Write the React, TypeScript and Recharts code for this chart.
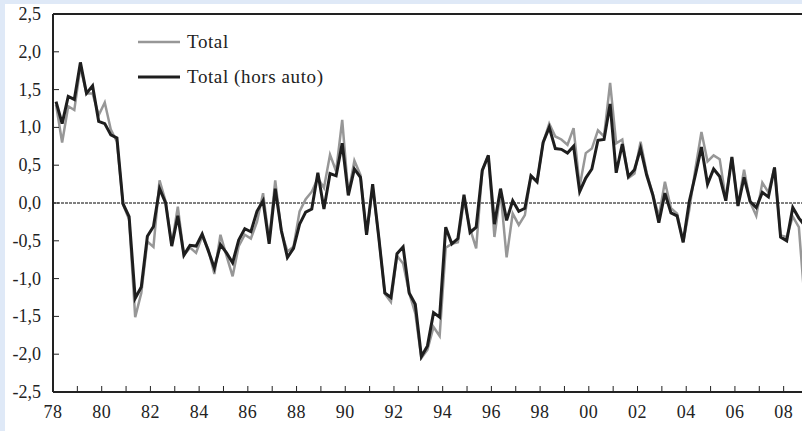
import { LineChart, Line, XAxis, YAxis, ReferenceLine, Legend } from 'recharts';

// quarterly series, 1978 Q1 -> 2008 Q4
const startYear = 1978;

const total = [
  1.30, 0.80, 1.28, 1.23, 1.80, 1.45, 1.45, 1.16, 1.33, 0.97,
  0.81, -0.02, -0.22, -1.51, -1.19, -0.51, -0.58, 0.30, 0.02, -0.55,
  -0.05, -0.69, -0.59, -0.66, -0.44, -0.61, -0.94, -0.42, -0.70, -0.97,
  -0.57, -0.42, -0.47, -0.25, 0.13, -0.50, 0.30, -0.38, -0.64, -0.58,
  -0.11, 0.05, 0.15, 0.33, 0.20, 0.64, 0.42, 1.10, 0.12, 0.56,
  0.37, -0.42, 0.21, -0.45, -1.20, -1.31, -0.70, -0.80, -1.19, -1.46,
  -2.05, -1.94, -1.64, -1.76, -0.59, -0.54, -0.52, 0.04, -0.34, -0.60,
  0.43, 0.63, -0.45, 0.15, -0.72, -0.14, -0.29, -0.16, 0.36, 0.28,
  0.80, 1.05, 0.88, 0.84, 0.77, 0.99, 0.22, 0.66, 0.72, 0.96,
  0.88, 1.59, 0.79, 0.84, 0.33, 0.39, 0.81, 0.40, 0.12, -0.18,
  0.28, -0.07, -0.14, -0.52, -0.09, 0.45, 0.94, 0.55, 0.63, 0.58,
  0.05, 0.60, -0.03, 0.44, 0.01, -0.17, 0.27, 0.14, 0.47, -0.43,
  -0.45, -0.18, -0.32, -1.35,
];

const horsAuto = [
  1.34, 1.05, 1.41, 1.37, 1.86, 1.45, 1.55, 1.08, 1.05, 0.90,
  0.86, -0.01, -0.18, -1.26, -1.11, -0.44, -0.31, 0.19, 0.00, -0.57,
  -0.17, -0.69, -0.56, -0.57, -0.41, -0.63, -0.86, -0.55, -0.66, -0.79,
  -0.49, -0.34, -0.38, -0.11, 0.03, -0.54, 0.19, -0.36, -0.72, -0.60,
  -0.28, -0.12, -0.08, 0.40, -0.08, 0.39, 0.36, 0.79, 0.10, 0.45,
  0.34, -0.42, 0.25, -0.45, -1.19, -1.25, -0.67, -0.58, -1.19, -1.34,
  -2.03, -1.89, -1.45, -1.51, -0.32, -0.54, -0.47, 0.11, -0.39, -0.32,
  0.43, 0.63, -0.28, 0.19, -0.23, 0.03, -0.11, -0.07, 0.36, 0.28,
  0.80, 1.00, 0.72, 0.71, 0.66, 0.75, 0.15, 0.33, 0.45, 0.83,
  0.84, 1.31, 0.40, 0.78, 0.35, 0.44, 0.72, 0.37, 0.11, -0.26,
  0.13, -0.13, -0.17, -0.52, 0.02, 0.37, 0.74, 0.25, 0.45, 0.35,
  0.03, 0.61, -0.04, 0.34, 0.02, -0.06, 0.14, 0.08, 0.47, -0.45,
  -0.50, -0.06, -0.20, -0.30,
];

const yTicks = [-2.5, -2, -1.5, -1, -0.5, 0, 0.5, 1, 1.5, 2, 2.5];
const yearTicks = Array.from({ length: 32 }, (_, i) => startYear + i);

const data = total.map((v, i) => ({
  t: startYear + Math.floor(i / 4) + (i % 4) / 4 + 0.125,
  total: v,
  horsAuto: horsAuto[i],
}));

const FONT = '"Liberation Serif", "Times New Roman", serif';
const TEXT = '#222';

const fmtY = (v: number) => v.toFixed(1).replace('.', ',');

const YTick = ({ x, y, payload }: any) => (
  <g>
    <line x1={x} x2={x + 6} y1={y} y2={y} stroke="#222" strokeWidth={1} />
    <text x={x - 12} y={y} textAnchor="end" dominantBaseline="central" fontFamily={FONT} fontSize={18} fill={TEXT}>
      {fmtY(payload.value)}
    </text>
  </g>
);

const XTick = ({ x, y, payload }: any) => {
  const yr = payload.value as number;
  return (
    <g>
      <line x1={x} x2={x} y1={y} y2={y - 6} stroke="#222" strokeWidth={1} />
      {yr % 2 === 0 && (
        <text x={x} y={y + 20} textAnchor="middle" dominantBaseline="central" fontFamily={FONT} fontSize={18} fill={TEXT} letterSpacing={0.5}>
          {String(yr).slice(2)}
        </text>
      )}
    </g>
  );
};

const LegendBox = () => (
  <div style={{ fontFamily: FONT, fontSize: 19, letterSpacing: 0.6, color: TEXT }}>
    {[
      { label: 'Total', color: '#979797', w: 2.5 },
      { label: 'Total (hors auto)', color: '#1e1e1e', w: 3 },
    ].map((it) => (
      <div key={it.label} style={{ display: 'flex', alignItems: 'center', height: 35 }}>
        <svg width={42} height={6} style={{ marginRight: 7 }}>
          <line x1={0} x2={42} y1={3} y2={3} stroke={it.color} strokeWidth={it.w} />
        </svg>
        <span>{it.label}</span>
      </div>
    ))}
  </div>
);

export default function App() {
  return (
    <div
      style={{
        position: 'fixed',
        left: 0,
        top: 0,
        width: 802,
        height: 431,
        overflow: 'hidden',
        background: '#dfe9f7',
      }}
    >
      <div style={{ position: 'absolute', left: 5, top: 4, width: 820, height: 440, background: '#fff' }}>
        <LineChart width={803} height={427} data={data} margin={{ top: 10, right: 0, bottom: 0, left: 0 }}>
          <XAxis
            type="number"
            dataKey="t"
            domain={[1978, 2009]}
            ticks={yearTicks}
            interval={0}
            height={39}
            tickSize={0}
            tickMargin={0}
            tickLine={false}
            tick={<XTick />}
            axisLine={{ stroke: '#222', strokeWidth: 2 }}
          />
          <YAxis
            type="number"
            domain={[-2.5, 2.5]}
            ticks={yTicks}
            interval={0}
            width={48}
            tickSize={0}
            tickMargin={0}
            tickLine={false}
            tick={<YTick />}
            axisLine={{ stroke: '#222', strokeWidth: 2 }}
          />
          <ReferenceLine y={2.5} stroke="#222" strokeWidth={2} />
          <ReferenceLine y={0} stroke="#000" strokeWidth={1} strokeDasharray="3 1" />
          <Line
            type="linear"
            dataKey="total"
            name="Total"
            stroke="#979797"
            strokeWidth={2.5}
            dot={false}
            isAnimationActive={false}
          />
          <Line
            type="linear"
            dataKey="horsAuto"
            name="Total (hors auto)"
            stroke="#1e1e1e"
            strokeWidth={3}
            dot={false}
            isAnimationActive={false}
          />
          <Legend
            layout="vertical"
            align="center"
            verticalAlign="middle"
            content={<LegendBox />}
            wrapperStyle={{ left: 133, top: 20, width: 'auto' }}
          />
        </LineChart>
      </div>
    </div>
  );
}
